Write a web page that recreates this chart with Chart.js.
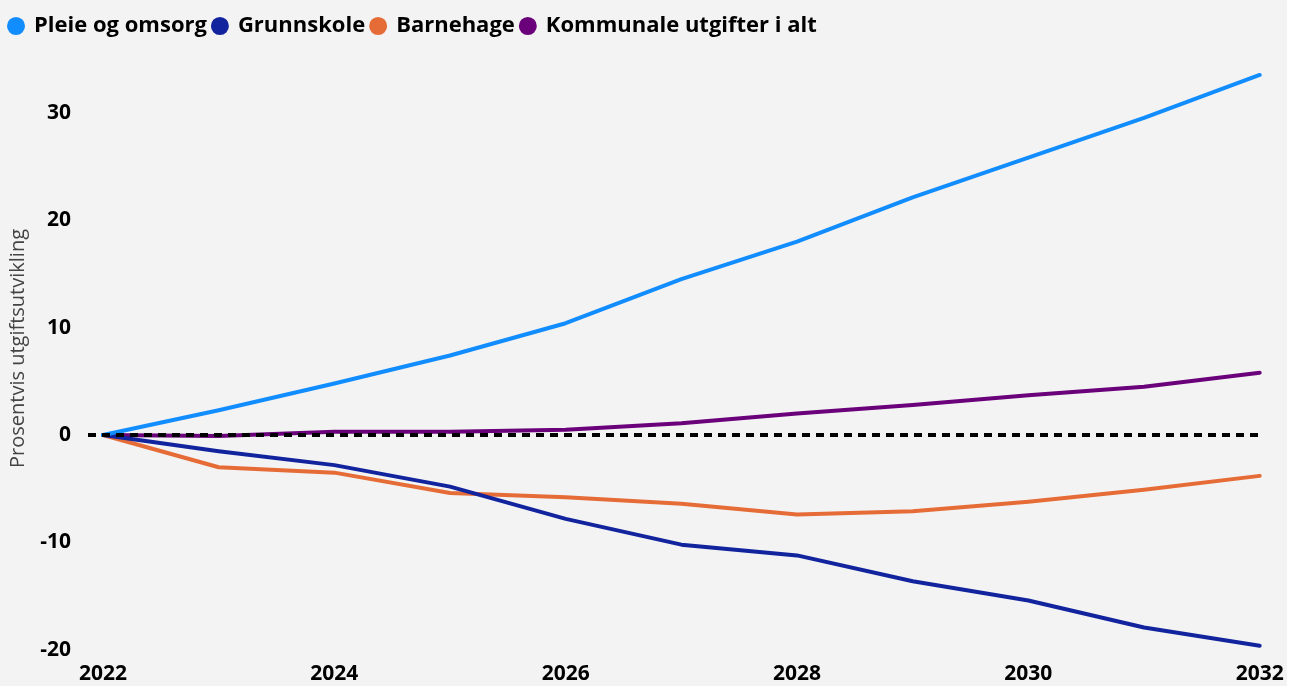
<!DOCTYPE html>
<html>
<head>
<meta charset="utf-8">
<script src="https://cdn.jsdelivr.net/npm/chart.js@4/dist/chart.umd.min.js"></script>
<style>
  html, body { margin: 0; padding: 0; background: #ffffff; }
  #wrap { width: 1287px; height: 686px; background: #f3f3f3; }
</style>
</head>
<body>
<div id="wrap"><canvas id="c" width="1287" height="686"></canvas></div>
<script>
const years = [2022, 2023, 2024, 2025, 2026, 2027, 2028, 2029, 2030, 2031, 2032];
const pleieOgOmsorg = [0, 2.3, 4.8, 7.4, 10.4, 14.5, 18.0, 22.1, 25.8, 29.5, 33.5];
const grunnskole = [0, -1.5, -2.8, -4.8, -7.8, -10.2, -11.2, -13.6, -15.4, -17.9, -19.6];
const barnehage = [0, -3.0, -3.5, -5.4, -5.8, -6.4, -7.4, -7.1, -6.2, -5.1, -3.8];
const kommunaleUtgifter = [0, -0.1, 0.3, 0.3, 0.5, 1.1, 2.0, 2.8, 3.7, 4.5, 5.8];
const xTickValues = [2022, 2024, 2026, 2028, 2030, 2032];
const yTickValues = [-20, -10, 0, 10, 20, 30];
const seriesNames = ['Pleie og omsorg', 'Grunnskole', 'Barnehage', 'Kommunale utgifter i alt'];

const xMin = 2021.87, xMax = 2032.02;
const pts = arr => arr.map((v, i) => ({ x: years[i], y: v }));
const font = "'Open Sans', 'DejaVu Sans', sans-serif";

const mk = (label, data, color) => ({
  label, data: pts(data), borderColor: color, backgroundColor: color,
  borderWidth: 4, pointRadius: 0, tension: 0, borderCapStyle: 'round', borderJoinStyle: 'round'
});

new Chart(document.getElementById('c'), {
  type: 'line',
  data: {
    datasets: [
      {
        label: 'zero', data: [{ x: xMin, y: 0 }, { x: xMax, y: 0 }],
        borderColor: '#000000', borderWidth: 4, borderDash: [8, 6], pointRadius: 0, order: -1
      },
      mk(seriesNames[0], pleieOgOmsorg, '#118DFF'),
      mk(seriesNames[1], grunnskole, '#12239E'),
      mk(seriesNames[2], barnehage, '#E66C37'),
      mk(seriesNames[3], kommunaleUtgifter, '#6B007B')
    ]
  },
  options: {
    responsive: false,
    animation: false,
    layout: { padding: { left: 3, right: 25, top: 9, bottom: 0 } },
    plugins: {
      tooltip: { enabled: false },
      legend: {
        position: 'top', align: 'start',
        labels: {
          filter: item => item.text !== 'zero',
          usePointStyle: true, pointStyle: 'circle', boxHeight: 10, pointStyleWidth: 14,
          padding: 6, color: '#000000',
          font: { family: font, size: 22, weight: '700' }
        }
      }
    },
    scales: {
      x: {
        type: 'linear', min: xMin, max: xMax,
        grid: { display: false }, border: { display: false },
        afterBuildTicks: s => { s.ticks = xTickValues.map(v => ({ value: v })); },
        afterFit: s => { s.height = 36; },
        ticks: {
          autoSkip: false, maxRotation: 0, padding: 3, color: '#000000',
          font: { family: font, size: 21, weight: '700' },
          callback: v => String(v)
        }
      },
      y: {
        min: -20, max: 36.1,
        grid: { display: false }, border: { display: false },
        afterBuildTicks: s => { s.ticks = yTickValues.map(v => ({ value: v })); },
        afterFit: s => { s.width = 85; },
        title: {
          display: true, text: 'Prosentvis utgiftsutvikling', color: '#444444',
          font: { family: font, size: 20, weight: '400' }, padding: { top: 3, bottom: 0 }
        },
        ticks: {
          padding: 9, color: '#000000',
          font: { family: font, size: 21, weight: '700' }
        }
      }
    }
  }
});
</script>
</body>
</html>
